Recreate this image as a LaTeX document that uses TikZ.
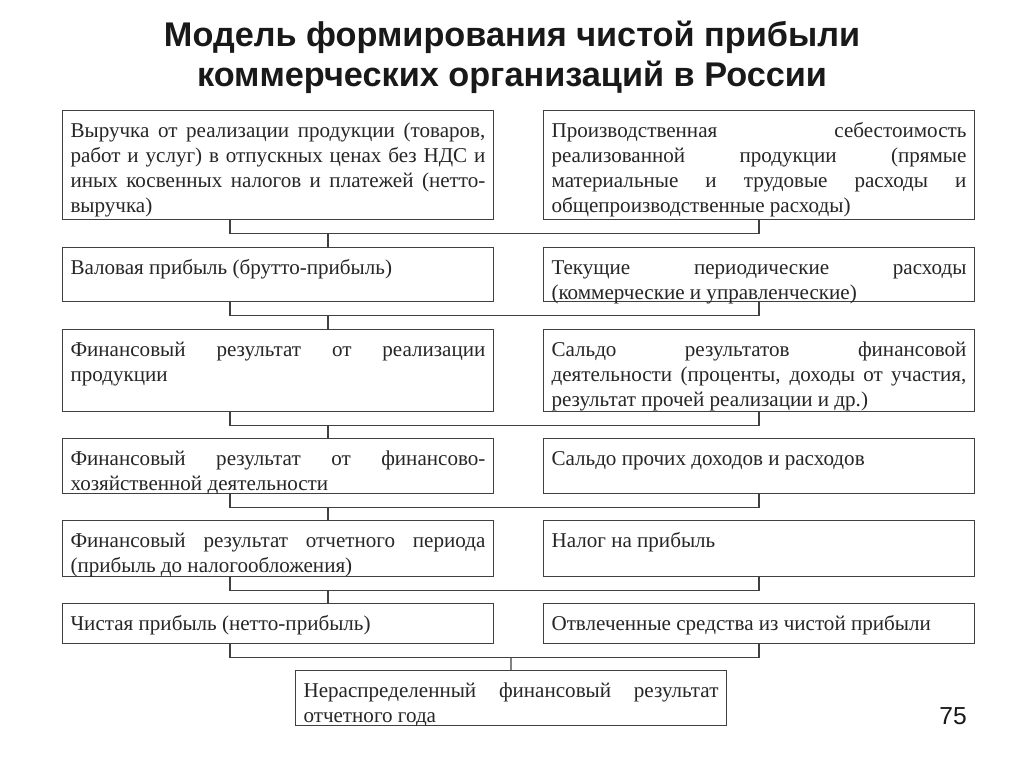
\documentclass[tikz,border=0pt]{standalone}
\usepackage{fontspec}
\setmainfont{Liberation Serif}
\newfontfamily\headfont{Liberation Sans}
\usetikzlibrary{calc}
\hyphenpenalty=10000

\begin{document}
\begin{tikzpicture}[x=0.02cm, y=-0.02cm,
  box/.style={draw=black!75, line width=0.6pt, anchor=north west, text width=8.3cm, align=justify,
    inner xsep=0.16cm, inner ysep=0.18cm, text height=0.36cm, text depth=#1,
    font=\fontsize{12}{14.2}\selectfont, text=black!85},
  link/.style={draw=black!75, line width=0.6pt}]
		%%%%% START %%%%%
		
		\useasboundingbox[fill=white] (0,0) rectangle (1024,768);
		
		\node[align=center, font=\headfont\bfseries\fontsize{19.5}{22.7}\selectfont, text=black!90] (title) at (512,57) {Модель формирования чистой прибыли\\коммерческих организаций в России};
		
		\node[box=1.46cm] (l1) at (62,110) {Выручка от реализации продукции (товаров, работ и услуг) в отпускных ценах без НДС и\linebreak иных косвенных налогов и платежей (нетто-\linebreak выручка)};
		\node[box=1.46cm] (r1) at (543,110) {Производственная себестоимость реализованной продукции (прямые материальные и трудовые расходы и общепроизводственные расходы)};
		
		\node[box=0.36cm] (l2) at (62,247) {Валовая прибыль (брутто-прибыль)};
		\node[box=0.36cm] (r2) at (543,247) {Текущие периодические расходы (коммерческие и управленческие)};
		
		\node[box=0.92cm] (l3) at (62,329) {Финансовый результат от реализации продукции};
		\node[box=0.92cm] (r3) at (543,329) {Сальдо результатов финансовой\linebreak деятельности (проценты, доходы от участия,\linebreak результат прочей реализации и др.)};
		
		\node[box=0.38cm] (l4) at (62,438) {Финансовый результат от финансово-хозяйственной деятельности};
		\node[box=0.38cm] (r4) at (543,438) {Сальдо прочих доходов и расходов};
		
		\node[box=0.40cm] (l5) at (62,520) {Финансовый результат отчетного периода (прибыль до налогообложения)};
		\node[box=0.40cm] (r5) at (543,520) {Налог на прибыль};
		
		\node[box=0.08cm] (l6) at (62,603) {Чистая прибыль (нетто-прибыль)};
		\node[box=0.08cm] (r6) at (543,603) {Отвлеченные средства из чистой прибыли};
		
		\node[box=0.38cm] (b) at (295,670) {Нераспределенный финансовый результат отчетного года};
		
		\node[font=\headfont\fontsize{14}{16}\selectfont, text=black!90] (page) at (953,716) {75};
		
		\coordinate (lx) at (230,0);
		\coordinate (mx) at (328,0);
		
		\foreach \a/\b/\c in {l1/r1/l2, l2/r2/l3, l3/r3/l4, l4/r4/l5, l5/r5/l6}{
			\draw[link] (\a.south -| lx) -- ($(\a.south -| lx)!.5!(\c.north -| lx)$) -| (\b.south);
			\draw[link] (\c.north -| mx) -- ($(\a.south -| mx)!.5!(\c.north -| mx)$);
		}
		\draw[link] (l6.south -| lx) -- ($(l6.south -| lx)!.5!(b.north -| lx)$) -| (r6.south);
		\draw[link] (b.north) -- ($(l6.south -| b.north)!.5!(b.north)$);
		
		%%%%% END %%%%%
\end{tikzpicture}
\end{document}
